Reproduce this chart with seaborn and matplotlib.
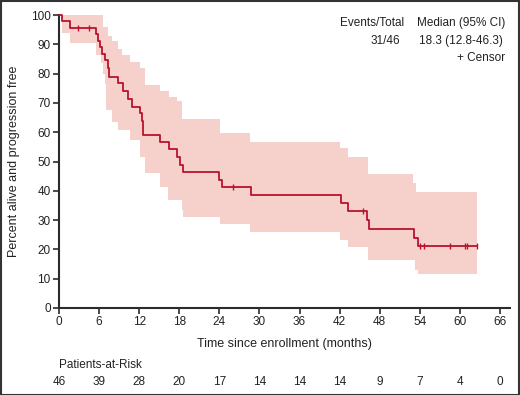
import numpy as np
import pandas as pd
import matplotlib
matplotlib.use("Agg")
import matplotlib.pyplot as plt
import seaborn as sns
from matplotlib.patches import Rectangle

# Kaplan-Meier curve (months, percent), step after each time
event_t = [0, 0.4, 1.7, 5.6, 5.9, 6.2, 6.5, 6.9, 7.4, 7.5, 8.9, 9.6, 10.3, 10.9,
           12.1, 12.4, 12.5, 12.6, 15.1, 16.4, 17.6, 18.1, 18.5, 24.0, 24.4,
           28.7, 42.2, 43.2, 46.1, 46.4, 53.2, 53.8, 62.5]
surv = [100, 97.8, 95.7, 93.4, 91.2, 89.0, 86.8, 84.6, 82.0, 79.0, 76.7, 73.9, 71.2, 68.7,
        66.4, 63.9, 61.5, 59.0, 56.6, 54.2, 51.6, 48.8, 46.4, 43.8, 41.2,
        38.5, 35.7, 33.1, 30.0, 27.1, 24.0, 21.0, 21.0]

# 95% CI band
upper_t = [0, 6.6, 7.4, 7.9, 8.9, 9.4, 10.6, 12.1, 12.9, 15.1, 16.4, 17.6, 18.4,
           24.1, 28.6, 42.1, 43.3, 46.3, 53.0, 53.5, 62.5]
upper = [100, 96, 93, 91, 88.5, 86.5, 84, 82, 76, 74, 72, 70.5, 64.5,
         59.6, 56.8, 54.5, 51.6, 45.7, 42.8, 39.5, 39.5]
lower_t = [0, 0.4, 1.7, 5.6, 6.3, 6.6, 6.9, 7.1, 7.9, 8.9, 10.6, 12.1, 12.9, 15.1,
           16.3, 18.4, 18.6, 24.1, 28.6, 42.1, 43.3, 46.3, 53.3, 53.8, 62.5]
lower = [100, 93.7, 90.3, 86.3, 83.5, 80, 76.5, 67.6, 63.6, 60.8, 57.3, 51.6, 46, 41.4,
         36.9, 33.4, 31, 28.7, 26.0, 23.2, 20.9, 16.5, 13.0, 11.5, 11.5]

# censored observations
censor_t = [2.8, 4.5, 26.1, 45.5, 54.0, 54.7, 58.5, 60.8, 61.0, 62.5]

# risk table
risk_ticks = [0, 6, 12, 18, 24, 30, 36, 42, 48, 54, 60, 66]
at_risk = [46, 39, 28, 20, 17, 14, 14, 14, 9, 7, 4, 0]

line_col = "#b8122e"
band_col = "#f6d0cb"
dark = "#2b2b2b"
txt = "#222222"


def step_at(tq, t, v):
    idx = np.searchsorted(t, tq, side="right") - 1
    return np.asarray(v)[idx]


sns.set_style("ticks")
plt.rcParams["font.family"] = ["Liberation Sans", "DejaVu Sans"]

fig = plt.figure(figsize=(5.2, 3.95), dpi=100)
ax = fig.add_axes([59 / 520, 87 / 395, 451 / 520, 293 / 395])

grid = np.union1d(upper_t, lower_t)
ax.fill_between(grid, step_at(grid, lower_t, lower), step_at(grid, upper_t, upper),
                step="post", color=band_col, linewidth=0, zorder=1)

km = pd.DataFrame({"t": event_t, "s": surv})
sns.lineplot(data=km, x="t", y="s", drawstyle="steps-post", estimator=None,
             color=line_col, linewidth=1.3, ax=ax, zorder=3, clip_on=False)

cens = pd.DataFrame({"t": censor_t, "s": step_at(censor_t, event_t, surv)})
ax.plot(cens["t"], cens["s"], linestyle="none", marker="|", markersize=4,
        markeredgewidth=1.0, color=line_col, zorder=4)

ax.set_xlim(0, 67.5)
ax.set_ylim(0, 100)
ax.set_xticks(risk_ticks)
ax.set_yticks(range(0, 101, 10))
for side in ["top", "right"]:
    ax.spines[side].set_visible(False)
for side in ["left", "bottom"]:
    ax.spines[side].set_color(dark)
    ax.spines[side].set_linewidth(1.5)
ax.tick_params(axis="both", colors=dark, labelcolor=txt, labelsize=8.5,
               length=4, width=1.2, pad=2)

ax.set_xlabel("Time since enrollment (months)", fontsize=9, color=txt, labelpad=7)
ax.set_ylabel("Percent alive and progression free", fontsize=9, color=txt, labelpad=8)

# legend text block
ax.text(372 / 520, 1 - 23 / 395, "Events/Total", transform=fig.transFigure,
        ha="center", va="center", fontsize=8.5, color=txt)
ax.text(461 / 520, 1 - 23 / 395, "Median (95% CI)", transform=fig.transFigure,
        ha="center", va="center", fontsize=8.5, color=txt)
ax.text(385 / 520, 1 - 41 / 395, "31/46", transform=fig.transFigure,
        ha="center", va="center", fontsize=8.5, color=txt)
ax.text(461 / 520, 1 - 41 / 395, "18.3 (12.8-46.3)", transform=fig.transFigure,
        ha="center", va="center", fontsize=8.5, color=txt)
ax.text(505 / 520, 1 - 58 / 395, "+ Censor", transform=fig.transFigure,
        ha="right", va="center", fontsize=8.5, color=txt)

# risk table
tr = ax.get_xaxis_transform()
ax.text(0, -57 / 293, "Patients-at-Risk", transform=tr, ha="left", va="center",
        fontsize=8.5, color=txt)
for x, n in zip(risk_ticks, at_risk):
    ax.text(x, -74 / 293, str(n), transform=tr, ha="center", va="center",
            fontsize=8.5, color=txt)

fig.patches.append(Rectangle((0.5 / 520, 0.5 / 395), 518.5 / 520, 393.5 / 395,
                             transform=fig.transFigure, fill=False,
                             edgecolor="#333333", linewidth=1.5))

fig.savefig("out.png", dpi=100)
